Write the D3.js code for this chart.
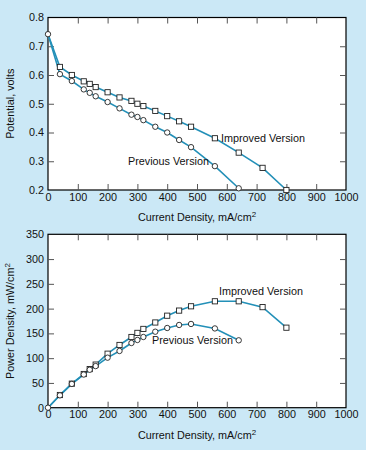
<!doctype html>
<html>
<head>
<script src="https://cdnjs.cloudflare.com/ajax/libs/d3/7.8.5/d3.min.js"></script>
<style>
  body { margin: 0; background: #cbe8f6; }
  svg { display: block; font-family: "Liberation Sans", Arial, sans-serif; }
</style>
</head>
<body>
<svg width="366" height="450"></svg>
<script>
// current density, mA/cm2
var currentImproved = [0, 40, 80, 120, 140, 160, 200, 240, 280, 300, 320, 360, 400, 440, 480, 560, 640, 720, 800];
var currentPrevious = [0, 40, 80, 120, 140, 160, 200, 240, 280, 300, 320, 360, 400, 440, 480, 560, 640];

// potential, volts
var potentialImproved = [0.742, 0.628, 0.6, 0.578, 0.569, 0.558, 0.54, 0.522, 0.51, 0.5, 0.492, 0.475, 0.457, 0.439, 0.42, 0.38, 0.33, 0.277, 0.2];
var potentialPrevious = [0.742, 0.603, 0.579, 0.55, 0.538, 0.526, 0.506, 0.484, 0.462, 0.454, 0.443, 0.42, 0.4, 0.374, 0.349, 0.283, 0.206];

// power density, mW/cm2
var powerImproved = [0, 25.6, 48.5, 68, 78, 87, 109, 126.6, 142.7, 151, 159, 172, 185.7, 196, 204.7, 214.8, 214.8, 203, 161.5];
var powerPrevious = [0, 25, 48, 67, 76.6, 84, 101, 114.5, 130.6, 136.7, 142.7, 153.4, 160.9, 167, 169, 160, 136];

var xTicks = [0, 100, 200, 300, 400, 500, 600, 700, 800, 900, 1000];
var potentialTicks = [0.2, 0.3, 0.4, 0.5, 0.6, 0.7, 0.8];
var powerTicks = [0, 50, 100, 150, 200, 250, 300, 350];

var lineColor = "#2390b8";
var svg = d3.select("svg");

function panel(top, bottom, yDomain, yTicks, yFmt, cur, sImp, sPrev, yLabel, labels) {
    var x = d3.scaleLinear().domain([0, 1000]).range([48, 346]);
    var y = d3.scaleLinear().domain(yDomain).range([bottom, top]);
    var g = svg.append("g");

    g.append("rect")
        .attr("x", 48).attr("y", top)
        .attr("width", 298).attr("height", bottom - top)
        .attr("fill", "white").attr("stroke", "black").attr("stroke-width", 1.2);

    // inside ticks on all four sides
    var tickAxes = [
        [d3.axisBottom(x), top],
        [d3.axisTop(x), bottom]
    ];
    tickAxes.forEach(function (a) {
        g.append("g")
            .attr("transform", "translate(0," + a[1] + ")")
            .call(a[0].tickValues(xTicks.slice(1, -1)).tickSize(6).tickFormat(""))
            .call(function (s) { s.select(".domain").remove(); s.selectAll("line").attr("stroke", "#555"); });
    });
    [[d3.axisRight(y), 48], [d3.axisLeft(y), 346]].forEach(function (a) {
        g.append("g")
            .attr("transform", "translate(" + a[1] + ",0)")
            .call(a[0].tickValues(yTicks.slice(1, -1)).tickSize(6).tickFormat(""))
            .call(function (s) { s.select(".domain").remove(); s.selectAll("line").attr("stroke", "#555"); });
    });

    // tick labels
    g.append("g")
        .attr("transform", "translate(0," + bottom + ")")
        .call(d3.axisBottom(x).tickValues(xTicks).tickSize(0).tickPadding(3).tickFormat(d3.format("d")))
        .call(function (s) {
            s.select(".domain").remove();
            s.selectAll("text").attr("font-size", 10.8).attr("fill", "#111").attr("font-family", "Liberation Sans, Arial, sans-serif");
        });
    g.append("g")
        .attr("transform", "translate(48,0)")
        .call(d3.axisLeft(y).tickValues(yTicks).tickSize(0).tickPadding(4).tickFormat(yFmt))
        .call(function (s) {
            s.select(".domain").remove();
            s.selectAll("text").attr("font-size", 10.8).attr("fill", "#111").attr("font-family", "Liberation Sans, Arial, sans-serif");
        });

    var line = d3.line()
        .x(function (d) { return x(d[0]); })
        .y(function (d) { return y(d[1]); });

    var imp = d3.zip(cur[0], sImp);
    var prev = d3.zip(cur[1], sPrev);

    [imp, prev].forEach(function (data) {
        g.append("path").datum(data)
            .attr("d", line)
            .attr("fill", "none").attr("stroke", lineColor).attr("stroke-width", 1.6);
    });

    g.selectAll(".sq").data(imp.slice(1)).enter().append("rect")
        .attr("x", function (d) { return x(d[0]) - 2.6; })
        .attr("y", function (d) { return y(d[1]) - 2.6; })
        .attr("width", 5.2).attr("height", 5.2)
        .attr("fill", "white").attr("stroke", "#222").attr("stroke-width", 0.9);
    g.selectAll(".ci").data(prev).enter().append("circle")
        .attr("cx", function (d) { return x(d[0]); })
        .attr("cy", function (d) { return y(d[1]); })
        .attr("r", 2.7)
        .attr("fill", "white").attr("stroke", "#222").attr("stroke-width", 0.9);

    // axis titles
    var xl = g.append("text")
        .attr("x", 197).attr("y", bottom + 31)
        .attr("text-anchor", "middle").attr("font-size", 10.8).attr("fill", "#111")
        .text("Current Density, mA/cm");
    xl.append("tspan").attr("dy", -4).attr("font-size", 8).text("2");

    var yl = g.append("text")
        .attr("transform", "translate(" + 14 + "," + ((top + bottom) / 2) + ") rotate(-90)")
        .attr("text-anchor", "middle").attr("font-size", 10.8).attr("fill", "#111")
        .text(yLabel[0]);
    if (yLabel[1]) yl.append("tspan").attr("dy", -4).attr("font-size", 8).text(yLabel[1]);

    labels.forEach(function (l) {
        g.append("text")
            .attr("x", l[0]).attr("y", l[1])
            .attr("font-size", 10.8).attr("fill", "#111")
            .text(l[2]);
    });
}

panel(17.5, 190, [0.2, 0.8], potentialTicks, d3.format(".1f"),
    [currentImproved, currentPrevious], potentialImproved, potentialPrevious,
    ["Potential, volts"],
    [[221, 142, "Improved Version"], [128, 165, "Previous Version"]]);

panel(234.3, 407.7, [0, 350], powerTicks, d3.format("d"),
    [currentImproved, currentPrevious], powerImproved, powerPrevious,
    ["Power Density, mW/cm", "2"],
    [[219, 295, "Improved Version"], [152, 344, "Previous Version"]]);
</script>
</body>
</html>
